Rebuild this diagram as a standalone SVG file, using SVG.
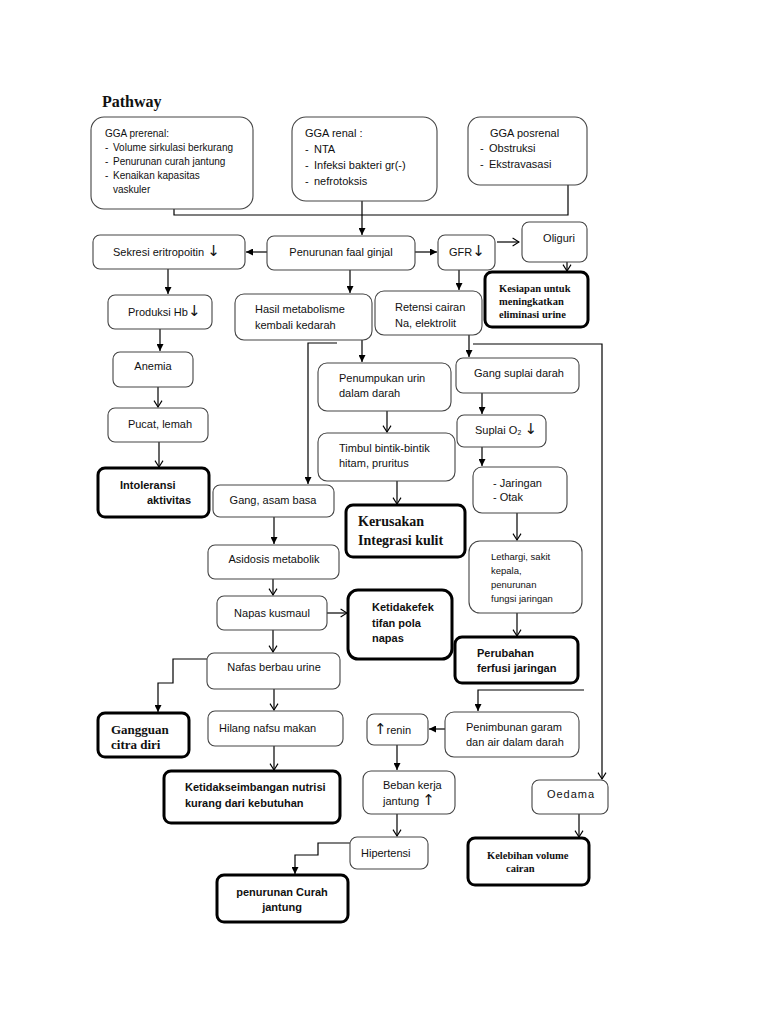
<svg xmlns="http://www.w3.org/2000/svg" width="768" height="1024" viewBox="0 0 768 1024">
<defs>
<marker id="af" viewBox="0 0 8 8" refX="8" refY="4" markerWidth="7" markerHeight="7" orient="auto" markerUnits="userSpaceOnUse"><path d="M0,0 L8,4 L0,8 z" fill="#000"/></marker>
<marker id="ao" viewBox="0 0 10 12" refX="9" refY="6" markerWidth="8" markerHeight="11" orient="auto" markerUnits="userSpaceOnUse"><path d="M1,1 L9,6 L1,11" fill="none" stroke="#000" stroke-width="1.4"/></marker>
</defs>
<style>
.b{fill:#fff;stroke:#444;stroke-width:1.1}
.k{fill:#fff;stroke:#000;stroke-width:3}
.t{font-family:"Liberation Sans","DejaVu Sans",sans-serif;font-size:11px;fill:#111}
.s{font-size:10px}
.x{font-size:9.5px}
.c{text-anchor:middle}
.bd{font-weight:bold}
.ar{font-family:"DejaVu Sans",sans-serif;font-size:15px}
.sf{font-family:"Liberation Serif","DejaVu Serif",serif;font-weight:bold;fill:#111}
.l{fill:none;stroke:#000;stroke-width:1.2}
.f{marker-end:url(#af)}
.o{marker-end:url(#ao)}
</style>
<rect width="768" height="1024" fill="#fff"/>
<text x="102" y="107" class="sf" font-size="16">Pathway</text>

<g id="connectors">
<polyline class="l" points="174,209 174,215 568,215 568,185"/>
<line class="l f" x1="362" y1="201" x2="362" y2="235"/>
<line class="l f" x1="267" y1="252" x2="246" y2="252"/>
<line class="l f" x1="415" y1="252" x2="437" y2="252"/>
<line class="l o" x1="497" y1="242" x2="519" y2="242"/>
<line class="l o" x1="567" y1="262" x2="567" y2="271"/>
<line class="l f" x1="168" y1="269" x2="168" y2="294"/>
<line class="l f" x1="350" y1="270" x2="350" y2="293"/>
<line class="l f" x1="459" y1="270" x2="459" y2="290"/>
<line class="l f" x1="160" y1="329" x2="160" y2="351"/>
<line class="l o" x1="158" y1="387" x2="158" y2="407"/>
<line class="l o" x1="159" y1="442" x2="159" y2="467"/>
<polyline class="l f" points="337,343 308,343 308,484"/>
<line class="l f" x1="362" y1="340" x2="362" y2="362"/>
<line class="l f" x1="469" y1="335" x2="469" y2="357"/>
<polyline class="l o" points="473,344 602,344 602,779"/>
<line class="l o" x1="387" y1="411" x2="387" y2="432"/>
<line class="l o" x1="397" y1="481" x2="397" y2="504"/>
<line class="l f" x1="482" y1="393" x2="482" y2="414"/>
<line class="l f" x1="482" y1="447" x2="482" y2="466"/>
<line class="l o" x1="517" y1="513" x2="517" y2="540"/>
<line class="l o" x1="517" y1="613" x2="517" y2="636"/>
<line class="l f" x1="274" y1="517" x2="274" y2="544"/>
<line class="l o" x1="273" y1="579" x2="273" y2="595"/>
<line class="l o" x1="327" y1="613" x2="347" y2="613"/>
<line class="l o" x1="273" y1="630" x2="273" y2="652"/>
<polyline class="l f" points="207,659 173,659 173,683 158,683 158,712"/>
<line class="l o" x1="274" y1="689" x2="274" y2="710"/>
<line class="l o" x1="274" y1="746" x2="274" y2="770"/>
<polyline class="l f" points="584,690 478,690 478,711"/>
<line class="l f" x1="445" y1="729" x2="429" y2="729"/>
<line class="l f" x1="397" y1="745" x2="397" y2="770"/>
<line class="l o" x1="397" y1="814" x2="397" y2="836"/>
<polyline class="l f" points="350,843 318,843 318,855 295,855 295,874"/>
<line class="l o" x1="579" y1="814" x2="579" y2="837"/>
</g>

<g id="prerenal"><rect class="b" x="91" y="117" width="162" height="92" rx="13"/>
<text class="t s" x="105" y="137">GGA prerenal:</text>
<text class="t s" x="105" y="151">-</text><text class="t s" x="113" y="151">Volume sirkulasi berkurang</text>
<text class="t s" x="105" y="165">-</text><text class="t s" x="113" y="165">Penurunan curah jantung</text>
<text class="t s" x="105" y="179">-</text><text class="t s" x="113" y="179">Kenaikan kapasitas</text>
<text class="t s" x="113" y="193">vaskuler</text></g>

<g id="renal"><rect class="b" x="292" y="117" width="145" height="84" rx="14"/>
<text class="t" x="305" y="137">GGA renal :</text>
<text class="t" x="305" y="153">-</text><text class="t" x="314" y="153">NTA</text>
<text class="t" x="305" y="169">-</text><text class="t" x="314" y="169">Infeksi bakteri gr(-)</text>
<text class="t" x="305" y="185">-</text><text class="t" x="314" y="185">nefrotoksis</text></g>

<g id="posrenal"><rect class="b" x="468" y="117" width="119" height="68" rx="12"/>
<text class="t" x="490" y="137">GGA posrenal</text>
<text class="t" x="480" y="152">-</text><text class="t" x="489" y="152">Obstruksi</text>
<text class="t" x="480" y="168">-</text><text class="t" x="489" y="168">Ekstravasasi</text></g>

<g id="sekresi"><rect class="b" x="93" y="235" width="152" height="34" rx="7"/>
<text class="t" x="113" y="256">Sekresi eritropoitin <tspan class="ar">↓</tspan></text></g>

<g id="penurunan-faal"><rect class="b" x="267" y="236" width="148" height="34" rx="7"/>
<text class="t c" x="341" y="256">Penurunan faal ginjal</text></g>

<g id="gfr"><rect class="b" x="438" y="235" width="57" height="35" rx="7"/>
<text class="t" x="449" y="256">GFR<tspan class="ar">↓</tspan></text></g>

<g id="oliguri"><rect class="b" x="522" y="222" width="65" height="40" rx="7"/>
<text class="t c" x="559" y="242">Oliguri</text></g>

<g id="kesiapan"><rect class="k" x="485" y="272" width="103" height="55" rx="7"/>
<text class="sf" font-size="10.5" x="499" y="292">Kesiapan untuk</text>
<text class="sf" font-size="10.5" x="499" y="305">meningkatkan</text>
<text class="sf" font-size="10.5" x="499" y="318">eliminasi urine</text></g>

<g id="produksi-hb"><rect class="b" x="108" y="295" width="104" height="34" rx="7"/>
<text class="t" x="128" y="316">Produksi Hb<tspan class="ar">↓</tspan></text></g>

<g id="hasil"><rect class="b" x="235" y="294" width="137" height="46" rx="9"/>
<text class="t" x="255" y="313">Hasil metabolisme</text>
<text class="t" x="255" y="329">kembali kedarah</text></g>

<g id="retensi"><rect class="b" x="375" y="291" width="107" height="44" rx="9"/>
<text class="t" x="395" y="311">Retensi cairan</text>
<text class="t" x="395" y="327">Na, elektrolit</text></g>

<g id="anemia"><rect class="b" x="113" y="352" width="80" height="35" rx="7"/>
<text class="t c" x="153" y="370">Anemia</text></g>

<g id="penumpukan"><rect class="b" x="318" y="363" width="133" height="48" rx="9"/>
<text class="t" x="339" y="382">Penumpukan urin</text>
<text class="t" x="339" y="397">dalam darah</text></g>

<g id="gang-suplai"><rect class="b" x="456" y="358" width="123" height="35" rx="7"/>
<text class="t c" x="519" y="377">Gang suplai darah</text></g>

<g id="pucat"><rect class="b" x="108" y="408" width="100" height="34" rx="7"/>
<text class="t c" x="160" y="428">Pucat, lemah</text></g>

<g id="suplai-o2"><rect class="b" x="457" y="415" width="89" height="32" rx="7"/>
<text class="t" x="475" y="434">Suplai O₂ <tspan class="ar">↓</tspan></text></g>

<g id="timbul"><rect class="b" x="318" y="433" width="137" height="48" rx="9"/>
<text class="t" x="339" y="452">Timbul bintik-bintik</text>
<text class="t" x="339" y="467">hitam, pruritus</text></g>

<g id="jaringan"><rect class="b" x="473" y="467" width="94" height="46" rx="9"/>
<text class="t" x="493" y="487">-  Jaringan</text>
<text class="t" x="493" y="501">-  Otak</text></g>

<g id="intoleransi"><rect class="k" x="98" y="468" width="111" height="49" rx="7"/>
<text class="t bd" font-size="11.5" x="120" y="489">Intoleransi</text>
<text class="t bd" font-size="11.5" x="147" y="504">aktivitas</text></g>

<g id="gang-asam"><rect class="b" x="213" y="485" width="121" height="32" rx="7"/>
<text class="t c" x="273" y="504">Gang, asam basa</text></g>

<g id="kerusakan"><rect class="k" x="346" y="505" width="119" height="52" rx="7"/>
<text class="sf" font-size="14" x="358" y="526">Kerusakan</text>
<text class="sf" font-size="14" x="358" y="545">Integrasi kulit</text></g>

<g id="lethargi"><rect class="b" x="469" y="541" width="113" height="72" rx="11"/>
<text class="t x" x="491" y="560">Lethargi, sakit</text>
<text class="t x" x="491" y="574">kepala,</text>
<text class="t x" x="491" y="588">penurunan</text>
<text class="t x" x="491" y="602">fungsi jaringan</text></g>

<g id="asidosis"><rect class="b" x="208" y="545" width="131" height="34" rx="7"/>
<text class="t c" x="274" y="563">Asidosis metabolik</text></g>

<g id="napas-kusmaul"><rect class="b" x="217" y="596" width="110" height="34" rx="7"/>
<text class="t c" x="272" y="617">Napas kusmaul</text></g>

<g id="ketidakefektifan"><rect class="k" x="348" y="590" width="104" height="69" rx="10"/>
<text class="t bd" font-size="11.5" x="372" y="611">Ketidakefek</text>
<text class="t bd" font-size="11.5" x="372" y="627">tifan pola</text>
<text class="t bd" font-size="11.5" x="372" y="642">napas</text></g>

<g id="perubahan"><rect class="k" x="455" y="637" width="123" height="46" rx="7"/>
<text class="t bd" font-size="12" x="477" y="657">Perubahan</text>
<text class="t bd" font-size="12" x="477" y="672">ferfusi jaringan</text></g>

<g id="nafas-berbau"><rect class="b" x="207" y="653" width="133" height="36" rx="7"/>
<text class="t c" x="274" y="671">Nafas berbau urine</text></g>

<g id="gangguan"><rect class="k" x="98" y="713" width="91" height="44" rx="7"/>
<text class="sf" font-size="13" x="111" y="734">Gangguan</text>
<text class="sf" font-size="13" x="111" y="749">citra diri</text></g>

<g id="hilang"><rect class="b" x="208" y="711" width="135" height="35" rx="7"/>
<text class="t" font-size="12.5" x="219" y="732">Hilang nafsu makan</text></g>

<g id="ketidakseimbangan"><rect class="k" x="164" y="771" width="176" height="52" rx="7"/>
<text class="t bd" x="185" y="791">Ketidakseimbangan nutrisi</text>
<text class="t bd" x="185" y="807">kurang dari kebutuhan</text></g>

<g id="renin"><rect class="b" x="367" y="714" width="61" height="31" rx="7"/>
<text class="t" x="374" y="734"><tspan class="ar">↑</tspan>renin</text></g>

<g id="penimbunan"><rect class="b" x="445" y="712" width="134" height="45" rx="9"/>
<text class="t" x="466" y="731">Penimbunan garam</text>
<text class="t" x="466" y="746">dan air dalam darah</text></g>

<g id="beban"><rect class="b" x="363" y="771" width="92" height="43" rx="8"/>
<text class="t" x="383" y="789">Beban kerja</text>
<text class="t" x="383" y="805">jantung <tspan class="ar">↑</tspan></text></g>

<g id="oedama"><rect class="b" x="532" y="780" width="76" height="34" rx="7"/>
<text class="t c" x="571" y="798" letter-spacing="1">Oedama</text></g>

<g id="hipertensi"><rect class="b" x="350" y="837" width="78" height="32" rx="7"/>
<text class="t" x="361" y="857">Hipertensi</text></g>

<g id="kelebihan"><rect class="k" x="468" y="838" width="121" height="47" rx="7"/>
<text class="sf" font-size="10.5" x="487" y="859">Kelebihan volume</text>
<text class="sf" font-size="10.5" x="506" y="872">cairan</text></g>

<g id="penurunan-curah"><rect class="k" x="217" y="875" width="131" height="47" rx="7"/>
<text class="t bd c" font-size="12" x="282" y="896">penurunan Curah</text>
<text class="t bd c" font-size="12" x="282" y="911">jantung</text></g>
</svg>
